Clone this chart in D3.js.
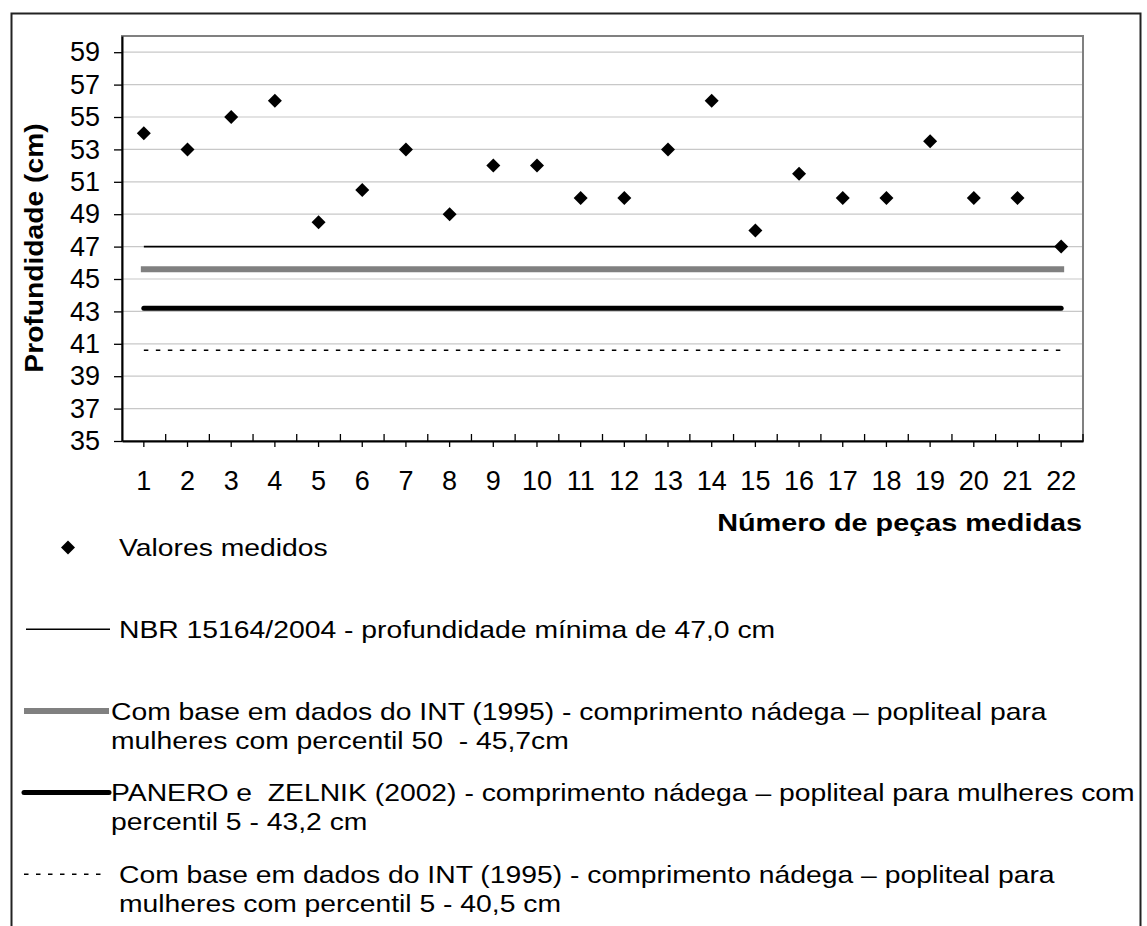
<!DOCTYPE html>
<html>
<head>
<meta charset="utf-8">
<script src="https://cdn.jsdelivr.net/npm/d3@7"></script>
<style>
  body { margin: 0; background: #fff; }
  text { font-family: "Liberation Sans", Arial, sans-serif; fill: #000; }
</style>
</head>
<body>
<div id="chart"></div>
<script>
// data
var categories = ["1", "2", "3", "4", "5", "6", "7", "8", "9", "10", "11",
                  "12", "13", "14", "15", "16", "17", "18", "19", "20", "21", "22"];
var measured = [54, 53, 55, 56, 48.5, 50.5, 53, 49, 52, 52, 50,
                50, 53, 56, 48, 51.5, 50, 50, 53.5, 50, 50, 47];
var refValues = [47, 45.6, 43.2, 40.6];
var yTicks = [35, 37, 39, 41, 43, 45, 47, 49, 51, 53, 55, 57, 59];
var legendLabels = [
    ["Valores medidos"],
    ["NBR 15164/2004 - profundidade mínima de 47,0 cm"],
    ["Com base em dados do INT (1995) - comprimento nádega – popliteal para",
     "mulheres com percentil 50  - 45,7cm"],
    ["PANERO e  ZELNIK (2002) - comprimento nádega – popliteal para mulheres com",
     "percentil 5 - 43,2 cm"],
    ["Com base em dados do INT (1995) - comprimento nádega – popliteal para",
     "mulheres com percentil 5 - 40,5 cm"]
];
var yTitle = "Profundidade (cm)";
var xTitle = "Número de peças medidas";

// styles of the four reference lines
var refStyles = [
    { color: "#000", width: 1.6, dash: null, cap: "butt" },
    { color: "#808080", width: 6, dash: null, cap: "square" },
    { color: "#000", width: 5, dash: null, cap: "round" },
    { color: "#000", width: 1.6, dash: "4.5,7.5", cap: "butt" }
];

var width = 1147,
    height = 926;
var plot = { left: 122, right: 1083, top: 36, bottom: 441 };

var svg = d3.select("#chart")
    .append("svg")
    .attr("width", width)
    .attr("height", height);

// outer frame
svg.append("rect")
    .attr("x", 11.5).attr("y", 13.5)
    .attr("width", 1129).attr("height", 1000)
    .attr("fill", "none")
    .attr("stroke", "#222")
    .attr("stroke-width", 2);

var x = d3.scaleBand().domain(categories).range([plot.left, plot.right]);
var y = d3.scaleLinear().domain([35, 60]).range([plot.bottom, plot.top]);
var cx = function (d) { return x(d) + x.bandwidth() / 2; };

// gridlines
svg.append("g")
    .selectAll("line")
    .data(yTicks.filter(function (t) { return t > 35; }))
    .enter()
    .append("line")
    .attr("x1", plot.left).attr("x2", plot.right)
    .attr("y1", function (d) { return y(d); })
    .attr("y2", function (d) { return y(d); })
    .attr("stroke", "#c8c8c8")
    .attr("stroke-width", 1.2);

// plot border (top and right are grey)
svg.append("rect")
    .attr("x", plot.left).attr("y", plot.top)
    .attr("width", plot.right - plot.left)
    .attr("height", plot.bottom - plot.top)
    .attr("fill", "none")
    .attr("stroke", "#808080")
    .attr("stroke-width", 2);

// y axis
var yAxis = svg.append("g")
    .attr("transform", "translate(" + plot.left + ",0)")
    .call(d3.axisLeft(y).tickValues(yTicks).tickSize(8).tickSizeOuter(0).tickPadding(14));
yAxis.select(".domain").attr("stroke", "#000").attr("stroke-width", 2);
yAxis.selectAll(".tick line").attr("stroke", "#000").attr("stroke-width", 1.3);
yAxis.selectAll("text")
    .attr("font-family", "Liberation Sans, Arial, sans-serif")
    .attr("font-size", 27)
    .attr("fill", "#000");

// x axis
var xAxis = svg.append("g")
    .attr("transform", "translate(0," + plot.bottom + ")")
    .call(d3.axisBottom(x).tickSize(6).tickSizeOuter(0).tickPadding(24));
xAxis.select(".domain").attr("stroke", "#000").attr("stroke-width", 2);
xAxis.selectAll(".tick line").attr("stroke", "#000").attr("stroke-width", 1.3);
xAxis.selectAll("text")
    .attr("font-family", "Liberation Sans, Arial, sans-serif")
    .attr("font-size", 27)
    .attr("fill", "#000");

// inner ticks at the category boundaries
svg.append("g")
    .selectAll("line")
    .data(categories.slice(1).concat(["end"]))
    .enter()
    .append("line")
    .attr("x1", function (d) { return d == "end" ? plot.right : x(d); })
    .attr("x2", function (d) { return d == "end" ? plot.right : x(d); })
    .attr("y1", plot.bottom)
    .attr("y2", plot.bottom - 7)
    .attr("stroke", "#000")
    .attr("stroke-width", 1.3);

// reference lines
svg.append("g")
    .selectAll("line")
    .data(refValues)
    .enter()
    .append("line")
    .attr("x1", cx(categories[0]))
    .attr("x2", cx(categories[categories.length - 1]))
    .attr("y1", function (d) { return y(d); })
    .attr("y2", function (d) { return y(d); })
    .attr("stroke", function (d, i) { return refStyles[i].color; })
    .attr("stroke-width", function (d, i) { return refStyles[i].width; })
    .attr("stroke-dasharray", function (d, i) { return refStyles[i].dash; })
    .attr("stroke-linecap", function (d, i) { return refStyles[i].cap; });

// measured values as diamonds
var diamond = d3.symbol().type(d3.symbolSquare).size(98);
svg.append("g")
    .selectAll("path")
    .data(measured)
    .enter()
    .append("path")
    .attr("d", diamond)
    .attr("transform", function (d, i) {
        return "translate(" + cx(categories[i]) + "," + y(d) + ") rotate(45)";
    })
    .attr("fill", "#000");

// axis titles
svg.append("text")
    .attr("transform", "translate(43,248) rotate(-90) scale(1.13,1)")
    .attr("text-anchor", "middle")
    .attr("font-weight", "bold")
    .attr("font-size", 25)
    .text(yTitle);

svg.append("text")
    .attr("transform", "translate(1082,531) scale(1.2,1)")
    .attr("text-anchor", "end")
    .attr("font-weight", "bold")
    .attr("font-size", 24)
    .text(xTitle);

// legend
var legendTop = 547.5,
    legendStep = 81.7,
    lineGap = 29;
var legendTextX = [119, 119, 111, 111, 119];
var legendSymX = [[68, 68], [26, 110], [24, 109], [24, 109], [24, 101]];

var entries = svg.append("g")
    .selectAll("g")
    .data(legendLabels)
    .enter()
    .append("g")
    .attr("transform", function (d, i) { return "translate(0," + (legendTop + i * legendStep) + ")"; });

entries.each(function (d, i) {
    var g = d3.select(this);
    if (i == 0) {
        g.append("path")
            .attr("d", diamond)
            .attr("transform", "translate(" + legendSymX[0][0] + ",0) rotate(45)")
            .attr("fill", "#000");
    } else {
        var s = refStyles[i - 1];
        g.append("line")
            .attr("x1", legendSymX[i][0]).attr("x2", legendSymX[i][1])
            .attr("y1", 0).attr("y2", 0)
            .attr("stroke", s.color)
            .attr("stroke-width", s.width)
            .attr("stroke-dasharray", s.dash)
            .attr("stroke-linecap", s.cap == "square" ? "butt" : s.cap);
    }
    g.selectAll("text")
        .data(d)
        .enter()
        .append("text")
        .attr("transform", function (t, j) {
            return "translate(" + legendTextX[i] + "," + (8.6 + j * lineGap) + ") scale(1.18,1)";
        })
        .attr("font-size", 24)
        .style("white-space", "pre")
        .text(function (t) { return t; });
});
</script>
</body>
</html>
